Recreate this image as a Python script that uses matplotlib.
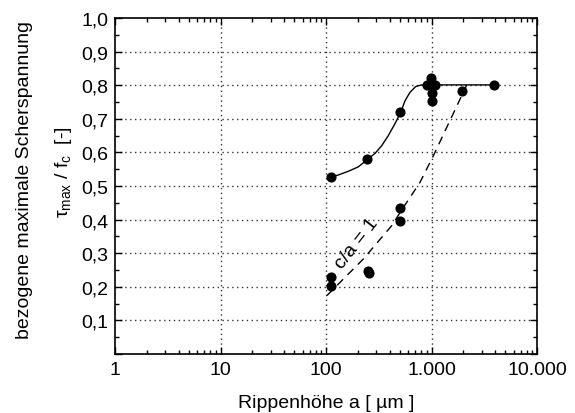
import matplotlib
matplotlib.use("Agg")
import matplotlib.pyplot as plt
from matplotlib.ticker import FixedLocator, MultipleLocator, FuncFormatter, LogLocator, NullFormatter

plt.rcParams['font.family'] = ['Liberation Sans', 'DejaVu Sans']
plt.rcParams['mathtext.fontset'] = 'custom'
plt.rcParams['mathtext.rm'] = 'Liberation Sans'
plt.rcParams['mathtext.it'] = 'Liberation Sans'

# measured points
a_pts = [111, 243, 502, 980, 900, 1000, 1070, 1000, 1000, 1930, 3940, 502, 502, 250, 258, 111, 111]
tau_pts = [0.527, 0.58, 0.721, 0.823, 0.80, 0.80, 0.80, 0.778, 0.754, 0.782, 0.80, 0.436, 0.395, 0.247, 0.241, 0.228, 0.203]

# fitted curve (solid)
a_fit = [111, 131, 163, 202, 243, 291, 337, 389, 451, 514, 561, 625, 707, 805, 933, 4140]
tau_fit = [0.526, 0.533, 0.544, 0.557, 0.577, 0.597, 0.620, 0.650, 0.686, 0.722, 0.754, 0.779, 0.796, 0.801, 0.801, 0.801]

# c/a = 1 curve (dashed)
a_ca = [102, 226, 419, 540, 778, 1040, 2150]
tau_ca = [0.174, 0.283, 0.382, 0.436, 0.511, 0.590, 0.800]

fig = plt.figure(figsize=(5.75, 4.14), dpi=100)
ax = fig.add_axes([0.2, 0.1425, 0.734, 0.8115])

ax.plot(a_fit, tau_fit, color='black', lw=1.0)
ax.plot(a_ca, tau_ca, color='black', lw=1.0, ls=(0, (6, 4.5)))
ax.plot(a_pts, tau_pts, 'o', color='black', ms=6.3)

ax.set_xscale('log')
ax.set_xlim(1, 10000)
ax.set_ylim(0, 1.0)

ax.xaxis.set_major_locator(FixedLocator([1, 10, 100, 1000, 10000]))
ax.xaxis.set_minor_locator(LogLocator(base=10, subs=range(2, 10)))
ax.xaxis.set_minor_formatter(NullFormatter())
ax.xaxis.set_major_formatter(FuncFormatter(lambda v, p: f"{int(round(v)):,}".replace(",", ".")))

ax.yaxis.set_major_locator(MultipleLocator(0.1))
ax.yaxis.set_minor_locator(MultipleLocator(0.05))
ax.yaxis.set_major_formatter(FuncFormatter(lambda v, p: "" if abs(v) < 1e-9 else f"{v:.1f}".replace(".", ",")))

ax.tick_params(which='both', direction='in', top=True, right=True, labelsize=14, width=1.0, pad=5)
ax.tick_params(which='major', length=5)
ax.tick_params(which='minor', length=3)

for x in [10, 100, 1000]:
    ax.axvline(x, color='#333333', lw=1.0, ls=(0, (1, 2.5)), zorder=0)
for y in [0.1, 0.2, 0.3, 0.4, 0.5, 0.6, 0.7, 0.8, 0.9]:
    ax.axhline(y, color='#333333', lw=1.0, ls=(0, (1, 2.5)), zorder=0)

for s in ax.spines.values():
    s.set_linewidth(1.2)

ax.text(197, 0.33, "c/a = 1", rotation=52, fontsize=14, ha='center', va='center')

fig.text(326 / 575, 1 - 408 / 414, "Rippenhöhe a [ µm ]", fontsize=14, ha='center', va='baseline')
fig.text(25 / 575, 1 - 180 / 414, "bezogene maximale Scherspannung", rotation=90,
         fontsize=14, ha='center', va='center')
fig.text(63 / 575, 1 - 172 / 414, r"$\tau_{\mathregular{max}}$ / f$_{\mathregular{c}}$  [-]",
         rotation=90, fontsize=14, ha='center', va='center')

fig.savefig("out.png", dpi=100)
